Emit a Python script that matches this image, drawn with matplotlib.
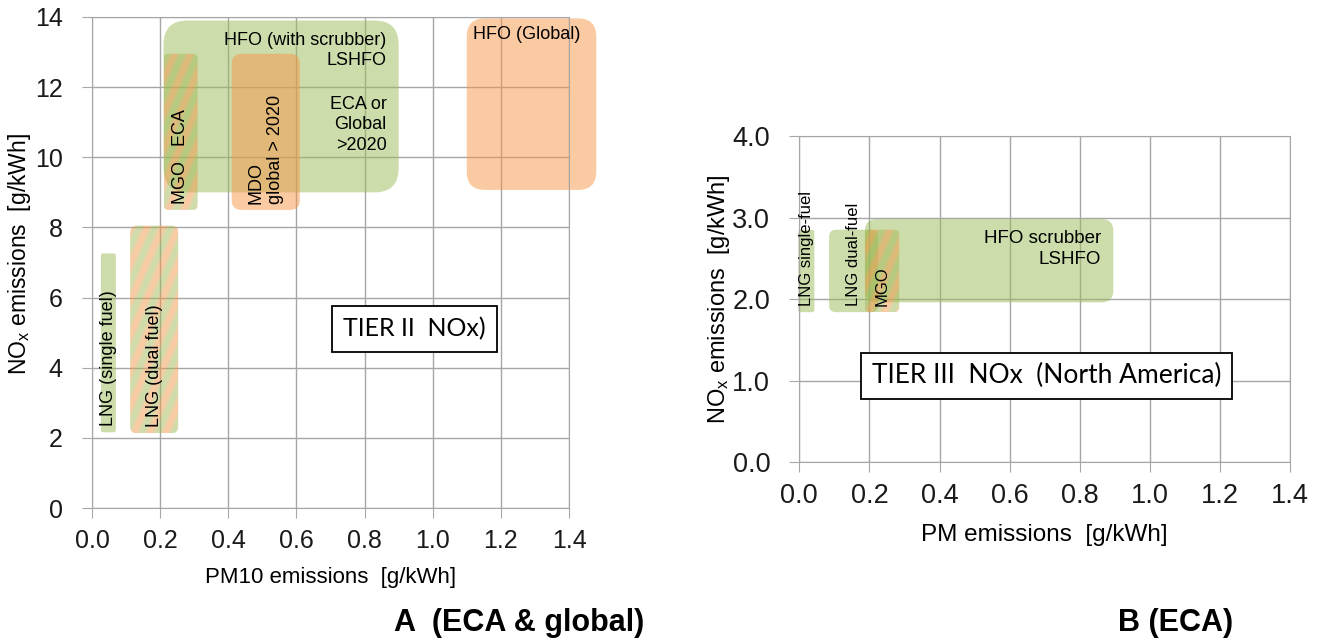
import numpy as np
import matplotlib
matplotlib.use("Agg")
import matplotlib.pyplot as plt
from matplotlib.patches import FancyBboxPatch
from matplotlib.transforms import offset_copy

plt.rcParams['font.family'] = ['Liberation Sans', 'DejaVu Sans']
plt.rcParams['mathtext.default'] = 'regular'

# Panel A (ECA & global): PM10 vs NOx ranges per fuel
a_fuels = ["HFO scrubber", "MDO", "MGO", "HFO global", "LNG single", "LNG dual"]
a_pm_lo = [0.21, 0.41, 0.21, 1.10, 0.026, 0.112]
a_pm_hi = [0.90, 0.61, 0.31, 1.48, 0.070, 0.253]
a_nox_lo = [9.0, 8.5, 8.5, 9.07, 2.16, 2.13]
a_nox_hi = [13.9, 12.95, 12.95, 13.96, 7.26, 8.05]
a_kind = ["green", "orange", "mixed", "orange", "green", "mixed"]
a_labels = ["HFO (with scrubber)\nLSHFO",
            "MDO\nglobal > 2020", "MGO   ECA", "HFO (Global)",
            "LNG (single fuel)", "LNG (dual fuel)"]
a_note = "ECA or\nGlobal\n>2020"

# Panel B (ECA): PM vs NOx ranges per fuel
b_fuels = ["HFO scrubber", "LNG single", "LNG dual", "MGO"]
b_pm_lo = [0.187, -0.003, 0.085, 0.187]
b_pm_hi = [0.896, 0.043, 0.225, 0.285]
b_nox_lo = [1.96, 1.84, 1.84, 1.84]
b_nox_hi = [2.98, 2.85, 2.85, 2.85]
b_kind = ["green", "green", "green", "mixed"]
b_labels = ["HFO scrubber\nLSHFO", "LNG single-fuel", "LNG dual-fuel", "MGO"]

a_xticks = [0.0, 0.2, 0.4, 0.6, 0.8, 1.0, 1.2, 1.4]
a_yticks = [0, 2, 4, 6, 8, 10, 12, 14]
b_xticks = [0.0, 0.2, 0.4, 0.6, 0.8, 1.0, 1.2, 1.4]
b_yticks = [0.0, 1.0, 2.0, 3.0, 4.0]

GREEN = np.array([155, 187, 89]) / 255
ORANGE = np.array([247, 150, 70]) / 255
GRID = '#a6a6a6'

W, H = 1327, 644
fig = plt.figure(figsize=(W / 100, H / 100), dpi=100)
axA = fig.add_axes([92 / W, 1 - 508 / H, 477 / W, 491 / H])
axB = fig.add_axes([799.3 / W, 1 - 462.3 / H, 490.7 / W, 326.4 / H])


def style_axes(ax, xticks, yticks, fmt_y, size, pad_x, pad_y):
    ax.set_xlim(xticks[0], xticks[-1])
    ax.set_ylim(yticks[0], yticks[-1])
    ax.set_xticks(xticks)
    ax.set_xticklabels([f"{v:.1f}" for v in xticks])
    ax.set_yticks(yticks)
    ax.set_yticklabels([fmt_y.format(v) for v in yticks])
    ax.grid(True, color=GRID, lw=1)
    ax.set_axisbelow(True)
    for s in ax.spines.values():
        s.set_color(GRID)
    ax.tick_params(axis='x', color=GRID, length=7, labelsize=size, pad=pad_x, colors=GRID, labelcolor='#1a1a1a')
    ax.tick_params(axis='y', color=GRID, length=7, labelsize=size, pad=pad_y, colors=GRID, labelcolor='#1a1a1a')


style_axes(axA, a_xticks, a_yticks, "{:.0f}", 18, 8, 14)
style_axes(axB, b_xticks, b_yticks, "{:.1f}", 19.5, 8, 14)


def rounded(ax, x0, x1, y0, y1, **kw):
    p0 = ax.transData.transform((x0, y0))
    p1 = ax.transData.transform((x1, y1))
    wpx, hpx = p1 - p0
    r = 0.14 * min(wpx, hpx)
    sx = (x1 - x0) / wpx
    sy = (y1 - y0) / hpx
    patch = FancyBboxPatch((x0, y0), x1 - x0, y1 - y0,
                           boxstyle=f"round,pad=0,rounding_size={r * sx}",
                           mutation_aspect=sy / sx, lw=0, clip_on=False, **kw)
    ax.add_patch(patch)
    return patch


def draw_box(ax, x0, x1, y0, y1, kind):
    if kind == "green":
        rounded(ax, x0, x1, y0, y1, facecolor=(*GREEN, 0.5))
    elif kind == "orange":
        rounded(ax, x0, x1, y0, y1, facecolor=(*ORANGE, 0.5))
    else:
        # green/orange diagonal stripes
        patch = rounded(ax, x0, x1, y0, y1, facecolor='none')
        p0 = ax.transData.transform((x0, y0))
        p1 = ax.transData.transform((x1, y1))
        nx, ny = int(p1[0] - p0[0]) + 2, int(p1[1] - p0[1]) + 2
        xx, yy = np.meshgrid(np.arange(nx), np.arange(ny))
        t = 0.5 + 0.5 * np.sin(2 * np.pi * (xx - 0.45 * yy) / 16)
        rgba = np.zeros((ny, nx, 4))
        for c in range(3):
            rgba[..., c] = GREEN[c] * (1 - t) + ORANGE[c] * t
        rgba[..., 3] = 0.5
        im = ax.imshow(rgba, extent=(x0, x1, y0, y1), origin='lower',
                       aspect='auto', interpolation='bilinear', zorder=1)
        im.set_clip_path(patch)


def label_box(ax, x0, x1, y0, y1, text, where, size):
    if where == "vertical":
        tr = offset_copy(ax.transData, fig=fig, x=0, y=6, units='dots')
        ax.text((x0 + x1) / 2, y0, text, rotation=90, ha='center', va='bottom',
                multialignment='left', fontsize=size, transform=tr, zorder=5)
    elif where == "topright":
        tr = offset_copy(ax.transData, fig=fig, x=-12, y=-11, units='dots')
        ax.text(x1, y1, text, ha='right', va='top', fontsize=size,
                linespacing=1.3, transform=tr, zorder=5)
    else:
        tr = offset_copy(ax.transData, fig=fig, x=6, y=-8, units='dots')
        ax.text(x0, y1, text, ha='left', va='top', fontsize=size,
                transform=tr, zorder=5)


a_where = {"HFO scrubber": "topright", "HFO global": "topleft"}
for f, x0, x1, y0, y1, k, lab in zip(a_fuels, a_pm_lo, a_pm_hi, a_nox_lo, a_nox_hi, a_kind, a_labels):
    draw_box(axA, x0, x1, y0, y1, k)
    label_box(axA, x0, x1, y0, y1, lab, a_where.get(f, "vertical"), 13)

# second note inside the HFO scrubber box, a few lines lower
tr = offset_copy(axA.transData, fig=fig, x=-12, y=-75, units='dots')
axA.text(a_pm_hi[0], a_nox_hi[0], a_note, ha='right', va='top', fontsize=13,
         linespacing=1.3, transform=tr, zorder=5)

b_where = {"HFO scrubber": "topright"}
for f, x0, x1, y0, y1, k, lab in zip(b_fuels, b_pm_lo, b_pm_hi, b_nox_lo, b_nox_hi, b_kind, b_labels):
    draw_box(axB, x0, x1, y0, y1, k)
    label_box(axB, x0, x1, y0, y1, lab, b_where.get(f, "vertical"),
              13.5 if f == "HFO scrubber" else 12)

for ax, xt, yt in [(axA, a_xticks, a_yticks), (axB, b_xticks, b_yticks)]:
    ax.set_xlim(xt[0], xt[-1])
    ax.set_ylim(yt[0], yt[-1])

# regulation boxes
axA.text(0.947, 5.10, "TIER II  NOx)", family='Lato', fontsize=18, ha='center', va='center',
         bbox=dict(boxstyle='square,pad=0.45', fc='white', ec='black', lw=1.3), zorder=6)
axB.text(0.705, 1.06, "TIER III  NOx  (North America)", family='Lato', fontsize=19,
         ha='center', va='center',
         bbox=dict(boxstyle='square,pad=0.4', fc='white', ec='black', lw=1.3), zorder=6)

# axis titles
fig.text(330.5 / W, 1 - 577 / H, "PM10 emissions  [g/kWh]", fontsize=16, ha='center', va='center')
fig.text(20 / W, 1 - 254 / H, "NO$_\\mathregular{x}$ emissions  [g/kWh]", fontsize=16.5,
         rotation=90, ha='center', va='center')
fig.text(1044.6 / W, 1 - 535 / H, "PM emissions  [g/kWh]", fontsize=17.5, ha='center', va='center')
fig.text(719 / W, 1 - 299 / H, "NO$_\\mathregular{x}$ emissions  [g/kWh]", fontsize=17,
         rotation=90, ha='center', va='center')

fig.text(519 / W, 1 - 623 / H, "A  (ECA & global)", fontsize=22, fontweight='bold', ha='center', va='center')
fig.text(1176 / W, 1 - 623 / H, "B (ECA)", fontsize=22, fontweight='bold', ha='center', va='center')

fig.savefig("out.png", dpi=100)
